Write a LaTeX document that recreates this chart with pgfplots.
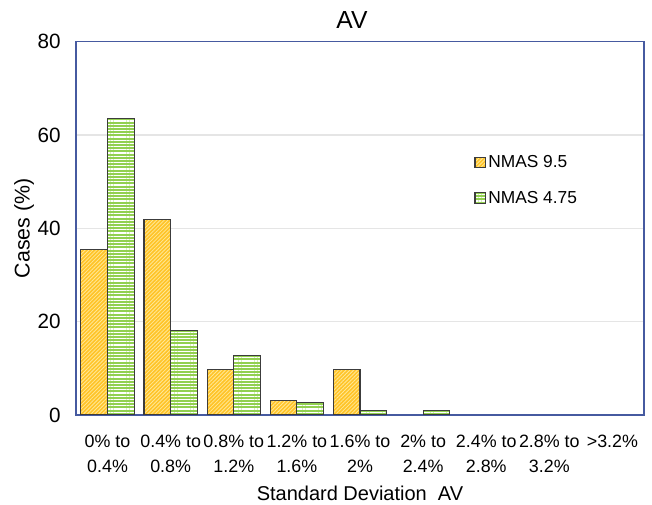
\documentclass[border=0pt]{standalone}
\usepackage{fontspec}
\setmainfont{Liberation Sans}
\usepackage{pgfplots}
\pgfplotsset{compat=1.18}
\usetikzlibrary{patterns.meta}
\definecolor{avorange}{RGB}{255,196,40}
\definecolor{avorangelt}{RGB}{255,232,150}
\definecolor{avgreen}{RGB}{146,208,80}
\definecolor{axblue}{RGB}{70,90,160}
\definecolor{edge}{RGB}{60,60,60}

\pgfplotsset{
  sqlegend/.style={legend image code/.code={\draw[##1] (0pt,-3.8pt) rectangle (7.6pt,3.8pt);}},
}

\begin{document}
\begin{tikzpicture}
\begin{axis}[
  scale only axis, width=426pt, height=280pt,
  ybar=0pt, bar width=20pt,
  xmin=-0.5, xmax=8.5, ymin=0, ymax=80,
  xtick={0,...,8},
  xticklabels={0\% to\\0.4\%, 0.4\% to\\0.8\%, 0.8\% to\\1.2\%, 1.2\% to\\1.6\%, 1.6\% to\\2\%, 2\% to\\2.4\%, 2.4\% to\\2.8\%, 2.8\% to\\3.2\%, >3.2\%},
  xticklabel style={align=center, font=\fontsize{13.4}{18.8}\selectfont, inner sep=0pt, yshift=-14.5pt},
  ytick={0,20,...,80},
  yticklabel style={font=\fontsize{15.5}{18}\selectfont, xshift=-8pt},
  /pgf/number format/assume math mode=true,
  ymajorgrids, grid style={gray!20, line width=0.8pt},
  major tick length=0pt,
  axis line style={axblue, line width=0.8pt},
  title=AV,
  every axis title/.style={font=\fontsize{18.5}{22}\selectfont, at={(0.5,1)}, anchor=base, yshift=10pt, xshift=-6pt},
  xlabel={Standard Deviation\ \ AV},
  every axis x label/.style={at={(axis description cs:0.5,-0.209)}, anchor=center, font=\fontsize{15}{18}\selectfont},
  ylabel={Cases (\%)},
  every axis y label/.style={at={(axis description cs:-0.0915,0.5)}, anchor=center, rotate=90, font=\fontsize{16}{19}\selectfont},
  legend style={draw=none, fill=none, at={(0.694,0.71)}, anchor=north west,
    font=\fontsize{13}{15}\selectfont, row sep=12pt, cells={anchor=west}},
  sqlegend,
]
\addplot[draw=edge, line width=0.8pt, fill=avorange,
  postaction={pattern={Lines[angle=45, distance=2pt, line width=0.6pt]}, pattern color=avorangelt}, sqlegend]
  coordinates {(0,35.5) (1,41.9) (2,9.7) (3,3.2) (4,9.7)};
\addlegendentry{NMAS 9.5}
\addplot[draw=edge, line width=0.8pt, fill=avgreen,
  postaction={pattern={Lines[angle=0, distance=2.4pt, line width=0.8pt]}, pattern color=white}, sqlegend]
  coordinates {(0,63.6) (1,18.2) (2,12.7) (3,2.7) (4,0.9) (5,0.9)};
\addlegendentry{NMAS 4.75}
\end{axis}
\pgfresetboundingbox
\path (-57pt,-67.5pt) rectangle (432pt,311.25pt);
\end{tikzpicture}
\end{document}
